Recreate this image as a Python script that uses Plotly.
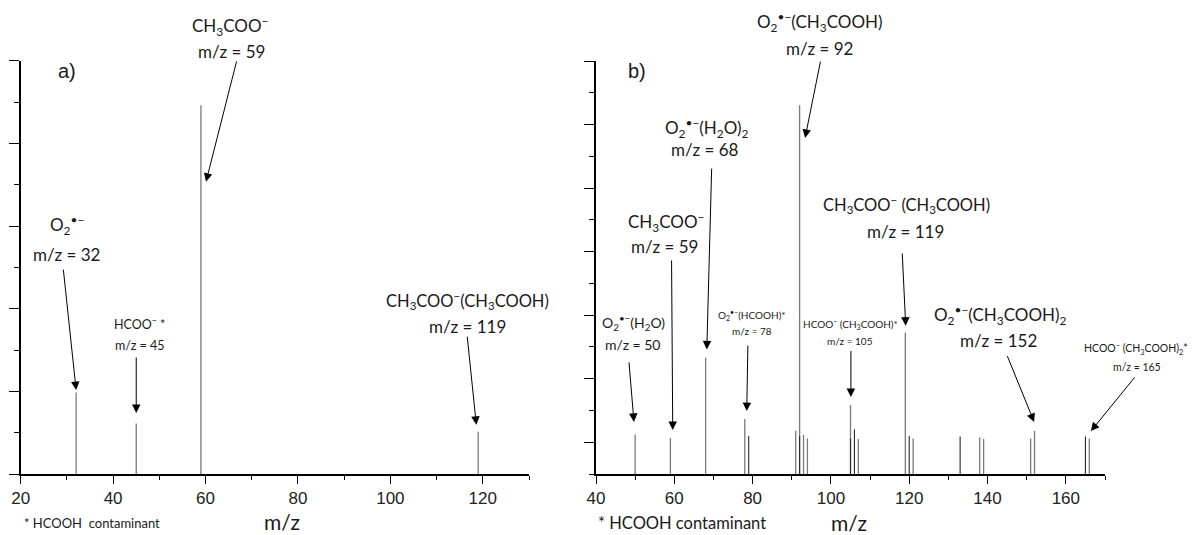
import plotly.graph_objects as go

# ---------------- data ----------------
# panel a) peaks (m/z, relative intensity in axis units)
a_mz = [32, 45, 59, 119]
a_int = [1.97, 1.22, 8.92, 1.02]

# panel b) peaks, grey series
b_mz = [50, 59, 68, 78, 91, 92, 93, 94, 105, 107, 119, 121, 138, 139, 151, 152, 166]
b_int = [1.24, 1.13, 3.66, 1.73, 1.36, 11.61, 1.23, 1.12, 2.17, 1.10, 4.45, 1.12, 1.15, 1.10, 1.12, 1.36, 1.12]
# panel b) peaks, darker overlaid series
b2_mz = [79, 92, 105, 106, 120, 133, 165]
b2_int = [1.20, 1.20, 1.12, 1.41, 1.20, 1.18, 1.18]

# x tick labels
a_xticks = [20, 40, 60, 80, 100, 120]
b_xticks = [40, 60, 80, 100, 120, 140, 160]

# annotations in data units of each panel: (text, x, y, font size)
a_labels = [
    ("CH<sub>3</sub>COO<sup>−</sup>", 65.3, 10.85, 17),
    ("m/z = 59", 65.7, 10.23, 17),
    ("O<sub>2</sub><sup>•−</sup>", 30.0, 6.02, 17),
    ("m/z = 32", 30.0, 5.32, 17),
    ("HCOO<sup>−</sup> *", 45.8, 3.63, 12.5),
    ("m/z = 45", 45.8, 3.12, 12.5),
    ("CH<sub>3</sub>COO<sup>−</sup>(CH<sub>3</sub>COOH)", 116.6, 4.21, 16.5),
    ("m/z = 119", 116.6, 3.56, 17),
]
# arrows: (tail x, tail y, head x, head y) in data units
a_arrows = [
    (66.8, 10.02, 60.1, 7.07),
    (29.2, 4.98, 32.0, 2.03),
    (45.0, 2.855, 45.0, 1.476),
    (116.6, 3.36, 118.6, 1.19),
]

b_labels = [
    ("O<sub>2</sub><sup>•−</sup>(CH<sub>3</sub>COOH)", 97.2, 14.23, 17),
    ("m/z = 92", 97.2, 13.38, 17),
    ("O<sub>2</sub><sup>•−</sup>(H<sub>2</sub>O)<sub>2</sub>", 68.3, 10.89, 17),
    ("m/z = 68", 67.8, 10.20, 17),
    ("CH<sub>3</sub>COO<sup>−</sup>", 58.1, 7.94, 17),
    ("m/z = 59", 57.6, 7.15, 17),
    ("O<sub>2</sub><sup>•−</sup>(H<sub>2</sub>O)", 49.45, 4.78, 14),
    ("m/z = 50", 49.45, 4.09, 14),
    ("O<sub>2</sub><sup>•−</sup>(HCOOH)*", 79.8, 5.00, 10),
    ("m/z = 78", 79.8, 4.50, 10),
    ("HCOO<sup>−</sup> (CH<sub>3</sub>COOH)*", 104.9, 4.72, 10),
    ("m/z = 105", 104.9, 4.19, 10),
    ("CH<sub>3</sub>COO<sup>−</sup> (CH<sub>3</sub>COOH)", 119.2, 8.48, 16.5),
    ("m/z = 119", 119.1, 7.62, 17),
    ("O<sub>2</sub><sup>•−</sup>(CH<sub>3</sub>COOH)<sub>2</sub>", 143.2, 4.99, 17),
    ("m/z = 152", 142.9, 4.19, 17),
    ("HCOO<sup>−</sup> (CH<sub>3</sub>COOH)<sub>2</sub>*", 177.9, 3.92, 10.5),
    ("m/z = 165", 178.1, 3.38, 10.5),
]
b_arrows = [
    (97.4, 13.03, 93.4, 10.58),
    (69.55, 9.66, 68.3, 3.92),
    (59.3, 6.77, 59.6, 1.385),
    (48.4, 3.56, 49.7, 1.64),
    (78.8, 4.09, 78.5, 1.98),
    (105.1, 3.92, 105.1, 2.42),
    (118.2, 6.99, 119.1, 4.67),
    (144.9, 3.76, 151.9, 1.64),
    (177.9, 3.09, 166.4, 1.35),
]

# ---------------- layout geometry (pixels) ----------------
W, H = 1192, 535
# panel frames: (x pixel at range start, x pixel at range end, y pixel bottom, y pixel top)
A_FRAME = (20.7, 529.0, 474.0, 60.7)
B_FRAME = (596.0, 1105.0, 474.0, 61.0)
A_RANGE = ([20, 130], [0, 10])
B_RANGE = ([40, 170], [0, 13])


def to_px(frame, rng, x, y):
    x0, x1, yb, yt = frame
    (r0, r1), (s0, s1) = rng
    px = x0 + (x - r0) / (r1 - r0) * (x1 - x0)
    py = yb - (y - s0) / (s1 - s0) * (yb - yt)
    return px, py


def px_x(p):
    return p / W


def px_y(p):
    return 1 - p / H


ANN_FONT = "Lato, 'Open Sans', sans-serif"
TICK_FONT = "'Liberation Sans', Arial, sans-serif"
GREY = "#7a7a7a"
DARK = "#2a2a2a"


def sticks(mz, inten):
    xs, ys = [], []
    for m, h in zip(mz, inten):
        xs += [m, m, None]
        ys += [0, h, None]
    return xs, ys


fig = go.Figure()
x, y = sticks(a_mz, a_int)
fig.add_trace(go.Scatter(x=x, y=y, mode="lines", line=dict(color=GREY, width=1.3),
                         xaxis="x", yaxis="y", hoverinfo="skip"))
x, y = sticks(b_mz, b_int)
fig.add_trace(go.Scatter(x=x, y=y, mode="lines", line=dict(color=GREY, width=1.3),
                         xaxis="x2", yaxis="y2", hoverinfo="skip"))
x, y = sticks(b2_mz, b2_int)
fig.add_trace(go.Scatter(x=x, y=y, mode="lines", line=dict(color=DARK, width=1.1),
                         xaxis="x2", yaxis="y2", hoverinfo="skip"))

axis_common = dict(showline=True, linecolor="black", linewidth=1.6, ticks="outside",
                   tickcolor="black", tickwidth=1.4, showgrid=False, zeroline=False,
                   fixedrange=True, automargin=False)
minor_x = dict(dtick=10, tick0=0, ticklen=4, tickwidth=1.4, tickcolor="black", ticks="outside")
minor_y = dict(dtick=1, tick0=0, ticklen=5, tickwidth=1.4, tickcolor="black", ticks="outside")

fig.update_layout(
    width=W, height=H, margin=dict(l=0, r=0, t=0, b=0, pad=0, autoexpand=False), autosize=False,
    paper_bgcolor="white", plot_bgcolor="white", showlegend=False,
    xaxis=dict(domain=[px_x(A_FRAME[0]), px_x(A_FRAME[1])], range=A_RANGE[0], anchor="y",
               tickvals=a_xticks, ticklen=8,
               tickfont=dict(family=TICK_FONT, size=17, color="#222"),
               minor=minor_x, **axis_common),
    yaxis=dict(domain=[px_y(A_FRAME[2]), px_y(A_FRAME[3])], range=A_RANGE[1], anchor="x",
               tick0=0, dtick=2, ticklen=10, showticklabels=False,
               minor=minor_y, **axis_common),
    xaxis2=dict(domain=[px_x(B_FRAME[0]), px_x(B_FRAME[1])], range=B_RANGE[0], anchor="y2",
                tickvals=b_xticks, ticklen=8,
                tickfont=dict(family=TICK_FONT, size=17, color="#222"),
                minor=minor_x, **axis_common),
    yaxis2=dict(domain=[px_y(B_FRAME[2]), px_y(B_FRAME[3])], range=B_RANGE[1], anchor="x2",
                tick0=1, dtick=2, ticklen=10, showticklabels=False,
                minor=minor_y, **axis_common),
)

anns = []


def label(text, px, py, size, family=ANN_FONT, xanchor="center"):
    return dict(text=text, x=px_x(px), y=px_y(py), xref="paper", yref="paper",
                showarrow=False, xanchor=xanchor, yanchor="middle",
                font=dict(family=family, size=size, color="#1a1a1a"))


for frame, rng, labels, arrows in ((A_FRAME, A_RANGE, a_labels, a_arrows),
                                   (B_FRAME, B_RANGE, b_labels, b_arrows)):
    for t, lx, ly, s in labels:
        px, py = to_px(frame, rng, lx, ly)
        anns.append(label(t, px, py, s))
    for tx, ty, hx, hy in arrows:
        hpx, hpy = to_px(frame, rng, hx, hy)
        tpx, tpy = to_px(frame, rng, tx, ty)
        anns.append(dict(text="", x=px_x(hpx), y=px_y(hpy), xref="paper", yref="paper",
                         ax=tpx - hpx, ay=tpy - hpy, axref="pixel", ayref="pixel",
                         showarrow=True, arrowhead=2, arrowsize=1.7, arrowwidth=1,
                         arrowcolor="black", standoff=0))

# panel letters
for t, frame, rng, lx, ly in (("a)", A_FRAME, A_RANGE, 30.0, 9.75), ("b)", B_FRAME, B_RANGE, 50.5, 12.68)):
    px, py = to_px(frame, rng, lx, ly)
    anns.append(label(t, px, py, 20, family=TICK_FONT))
# axis titles and footnotes
anns.append(label("m/z", 282, 521, 21))
anns.append(label("m/z", 849, 522, 21))
anns.append(label("* HCOOH  contaminant", 22, 523, 13, xanchor="left"))
anns.append(label("* HCOOH contaminant", 596, 523, 16.5, xanchor="left"))

fig.update_layout(annotations=anns)
fig.write_html("out.html", config={"displayModeBar": False},
               post_script="document.body.style.margin='0';document.body.style.overflow='hidden';")
